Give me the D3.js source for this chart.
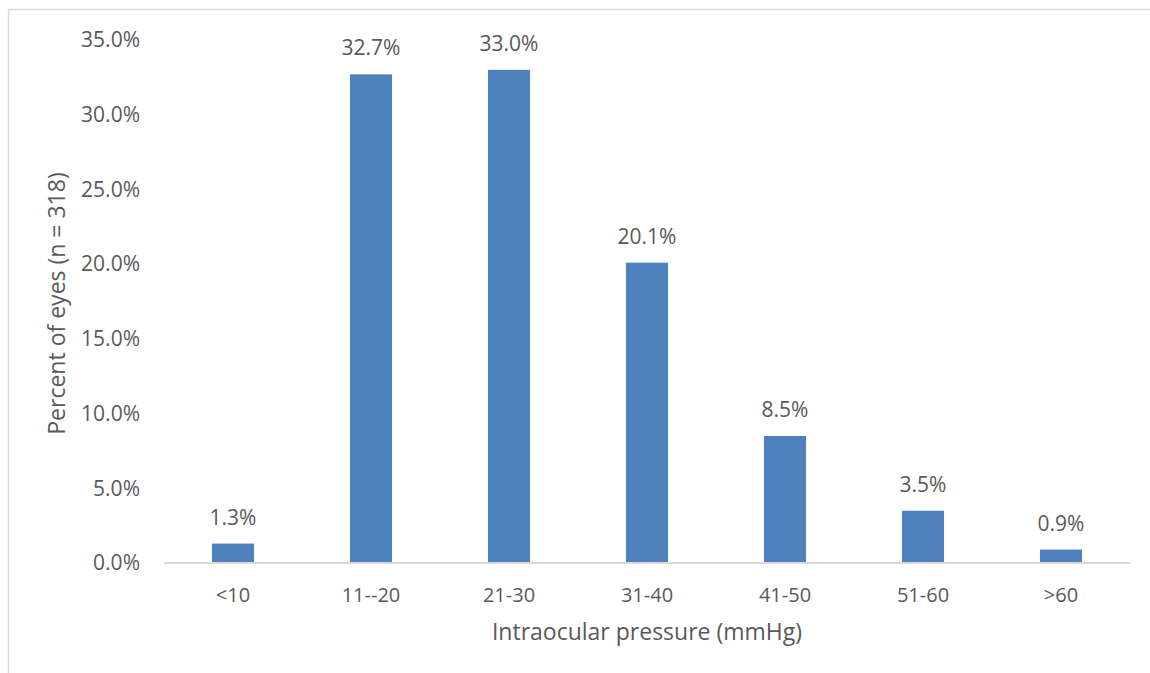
<!DOCTYPE html>
<html>
<head>
<meta charset="utf-8">
<script src="https://cdn.jsdelivr.net/npm/d3@7"></script>
<style>
  html, body { margin: 0; padding: 0; background: #fff; }
  svg { display: block; }
  text { font-family: "Open Sans", "Liberation Sans", sans-serif; fill: #595959; }
</style>
</head>
<body>
<svg id="chart" width="1150" height="673"></svg>
<script>
// IOP ranges and share of eyes in each (percent)
const categories = ["<10", "11--20", "21-30", "31-40", "41-50", "51-60", ">60"];
const percents = [1.3, 32.7, 33.0, 20.1, 8.5, 3.5, 0.9];
const yTicks = [0, 5, 10, 15, 20, 25, 30, 35];
const xTitle = "Intraocular pressure (mmHg)";
const yTitle = "Percent of eyes (n = 318)";

const svg = d3.select("#chart");
const W = 1150, H = 673;
const plot = { left: 164, right: 1130, top: 40, bottom: 563 };

// chart frame (runs off the right/bottom edge)
svg.append("rect")
  .attr("x", 8.5).attr("y", 9.5)
  .attr("width", W + 20).attr("height", H + 20)
  .attr("fill", "#fff")
  .attr("stroke", "#d9d9d9").attr("stroke-width", 1.5);

const x = d3.scaleBand()
  .domain(categories)
  .range([plot.left, plot.right])
  .paddingInner(0.695)
  .paddingOuter(0.3475);

const y = d3.scaleLinear()
  .domain([0, 35])
  .range([plot.bottom, plot.top]);

// y axis labels
const yAxis = d3.axisLeft(y)
  .tickValues(yTicks)
  .tickFormat(d => d.toFixed(1) + "%")
  .tickSize(0)
  .tickPadding(0);
const yg = svg.append("g")
  .attr("transform", `translate(${140},0)`)
  .call(yAxis);
yg.select(".domain").remove();
yg.selectAll("text")
  .attr("font-size", 21)
  .attr("font-family", null)
  .attr("fill", "#595959");

// bars
const data = categories.map((c, i) => ({ c, v: percents[i] }));
svg.append("g").selectAll("rect")
  .data(data)
  .join("rect")
  .attr("x", d => x(d.c))
  .attr("y", d => y(d.v))
  .attr("width", x.bandwidth())
  .attr("height", d => y(0) - y(d.v))
  .attr("fill", "#4f81bd");

// x axis baseline and category labels
const xAxis = d3.axisBottom(x).tickSize(0).tickPadding(0);
const xg = svg.append("g")
  .attr("transform", `translate(0,${plot.bottom})`)
  .call(xAxis);
xg.select(".domain")
  .attr("stroke", "#d9d9d9")
  .attr("stroke-width", 2)
  .attr("d", `M${plot.left},0H${plot.right}`);
xg.selectAll("text")
  .attr("font-size", 20)
  .attr("font-family", null)
  .attr("fill", "#595959")
  .attr("dy", null)
  .attr("y", 39);

// value labels above bars
svg.append("g").selectAll("text")
  .data(data)
  .join("text")
  .attr("x", d => x(d.c) + x.bandwidth() / 2)
  .attr("y", d => y(d.v) - 19)
  .attr("text-anchor", "middle")
  .attr("font-size", 21)
  .text(d => d.v.toFixed(1) + "%");

// axis titles
svg.append("text")
  .attr("x", (plot.left + plot.right) / 2)
  .attr("y", 640)
  .attr("text-anchor", "middle")
  .attr("font-size", 23)
  .text(xTitle);

svg.append("text")
  .attr("transform", `translate(65,${(plot.top + plot.bottom) / 2 + 2}) rotate(-90)`)
  .attr("text-anchor", "middle")
  .attr("font-size", 23)
  .text(yTitle);
</script>
</body>
</html>
